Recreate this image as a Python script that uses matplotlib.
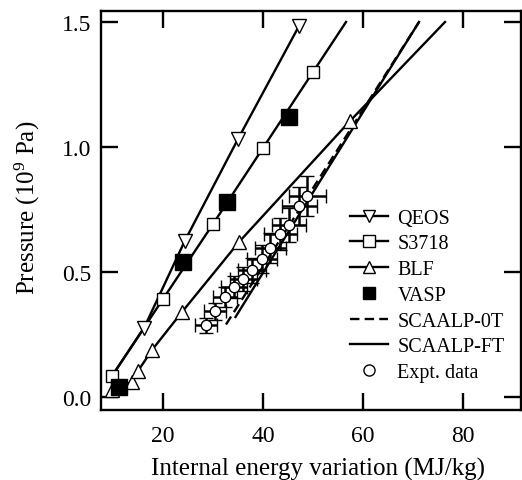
import matplotlib
matplotlib.use("Agg")
import matplotlib.pyplot as plt
from matplotlib.lines import Line2D

# ---- data ----
qeos_line_x = [10.0, 16.2, 24.4, 35.0, 47.2]
qeos_line_y = [0.09, 0.276, 0.626, 1.032, 1.484]
qeos_mk_x = [16.2, 24.4, 35.0, 47.2]
qeos_mk_y = [0.276, 0.626, 1.032, 1.484]

s3718_line_x = [9.8, 20.0, 30.0, 40.0, 50.0, 56.6]
s3718_line_y = [0.084, 0.392, 0.692, 0.996, 1.30, 1.50]
s3718_mk_x = [9.8, 20.0, 30.0, 40.0, 50.0]
s3718_mk_y = [0.084, 0.392, 0.692, 0.996, 1.30]

blf_line_x = [9.8, 13.8, 15.0, 17.8, 23.8, 35.2, 57.4, 76.4]
blf_line_y = [0.028, 0.06, 0.104, 0.188, 0.34, 0.62, 1.104, 1.50]
blf_mk_x = [9.8, 13.8, 15.0, 17.8, 23.8, 35.2, 57.4]
blf_mk_y = [0.028, 0.06, 0.104, 0.188, 0.34, 0.62, 1.104]

vasp_x = [11.2, 24.0, 32.8, 45.2]
vasp_y = [0.04, 0.54, 0.78, 1.12]

scaalp0t_x = [32.6, 71.2]
scaalp0t_y = [0.29, 1.50]

scaalpft_x = [34.5, 71.2]
scaalpft_y = [0.32, 1.50]

expt_x = [28.6, 30.4, 32.4, 34.2, 36.0, 37.8, 39.8, 41.4, 43.4, 45.2, 47.2, 48.8]
expt_y = [0.288, 0.344, 0.40, 0.44, 0.472, 0.508, 0.552, 0.596, 0.652, 0.688, 0.764, 0.804]
expt_xerr = [2.2, 2.3, 2.4, 2.6, 2.7, 2.8, 3.0, 3.1, 3.3, 3.4, 3.5, 3.7]
expt_yerr = [0.03, 0.034, 0.04, 0.044, 0.047, 0.05, 0.055, 0.06, 0.065, 0.069, 0.076, 0.08]

xticks = [20, 40, 60, 80]
yticks = [0.0, 0.5, 1.0, 1.5]
ytick_labels = ["0.0", "0.5", "1.0", "1.5"]

# ---- style ----
plt.rcParams['font.family'] = ['Liberation Serif', 'DejaVu Serif']
plt.rcParams['mathtext.fontset'] = 'custom'
plt.rcParams['mathtext.rm'] = 'Liberation Serif'
plt.rcParams['mathtext.it'] = 'Liberation Serif:italic'

fig = plt.figure(figsize=(5.22, 4.81), dpi=100)
ax = fig.add_axes([101/522, 1 - 411/481, 420/522, 399/481])

lw = 1.7
dash = (0, (4.0, 2.2))
ax.plot(qeos_line_x, qeos_line_y, color='black', lw=lw, zorder=2)
ax.plot(qeos_mk_x, qeos_mk_y, ls='none', marker='v', ms=9.5, mfc='white', mec='black', mew=1.0, zorder=3)

ax.plot(s3718_line_x, s3718_line_y, color='black', lw=lw, zorder=2)
ax.plot(s3718_mk_x, s3718_mk_y, ls='none', marker='s', ms=8.5, mfc='white', mec='black', mew=1.0, zorder=3)

ax.plot(blf_line_x, blf_line_y, color='black', lw=lw, zorder=2)
ax.plot(blf_mk_x, blf_mk_y, ls='none', marker='^', ms=9.5, mfc='white', mec='black', mew=1.0, zorder=3)

ax.plot(vasp_x, vasp_y, ls='none', marker='s', ms=11, mfc='black', mec='black', zorder=4)

ax.plot(scaalp0t_x, scaalp0t_y, color='black', lw=lw, ls=dash, zorder=2)
ax.plot(scaalpft_x, scaalpft_y, color='black', lw=lw, zorder=2)

ax.errorbar(expt_x, expt_y, xerr=expt_xerr, yerr=expt_yerr, fmt='o', ms=7.5,
            mfc='white', mec='black', mew=1.0, ecolor='black', elinewidth=1.8,
            capsize=5, capthick=1.8, zorder=3)

ax.set_xlim(7.6, 91.6)
ax.set_ylim(-0.052, 1.544)
ax.set_xticks(xticks)
ax.set_yticks(yticks)
ax.set_yticklabels(ytick_labels)
ax.tick_params(direction='in', length=12, width=1.7, top=True, right=True,
               labelsize=17)
ax.tick_params(axis='x', pad=11)
ax.tick_params(axis='y', pad=7)
for s in ax.spines.values():
    s.set_linewidth(1.7)

ax.set_xlabel("Internal energy variation (MJ/kg)", fontsize=18)
ax.xaxis.set_label_coords(0.517, -0.118)
ax.set_ylabel("Pressure (10$^{9}$ Pa)", fontsize=18)
ax.yaxis.set_label_coords(-0.14, 0.51)

handles = [
    Line2D([], [], color='black', lw=lw, marker='v', ms=9, mfc='white', mec='black', mew=1.0),
    Line2D([], [], color='black', lw=lw, marker='s', ms=8, mfc='white', mec='black', mew=1.0),
    Line2D([], [], color='black', lw=lw, marker='^', ms=9, mfc='white', mec='black', mew=1.0),
    Line2D([], [], ls='none', marker='s', ms=8.5, mfc='black', mec='black'),
    Line2D([], [], color='black', lw=lw, ls=dash),
    Line2D([], [], color='black', lw=lw),
    Line2D([], [], ls='none', marker='o', ms=8, mfc='white', mec='black', mew=1.0),
]
labels = ["QEOS", "S3718", "BLF", "VASP", "SCAALP-0T", "SCAALP-FT", "Expt. data"]
ax.legend(handles, labels, loc='upper left', bbox_to_anchor=(0.593, 0.505),
          frameon=False, fontsize=14.5, handlelength=1.9, handletextpad=0.45,
          labelspacing=0.33, borderpad=0, borderaxespad=0)

fig.savefig("out.png", dpi=100)
